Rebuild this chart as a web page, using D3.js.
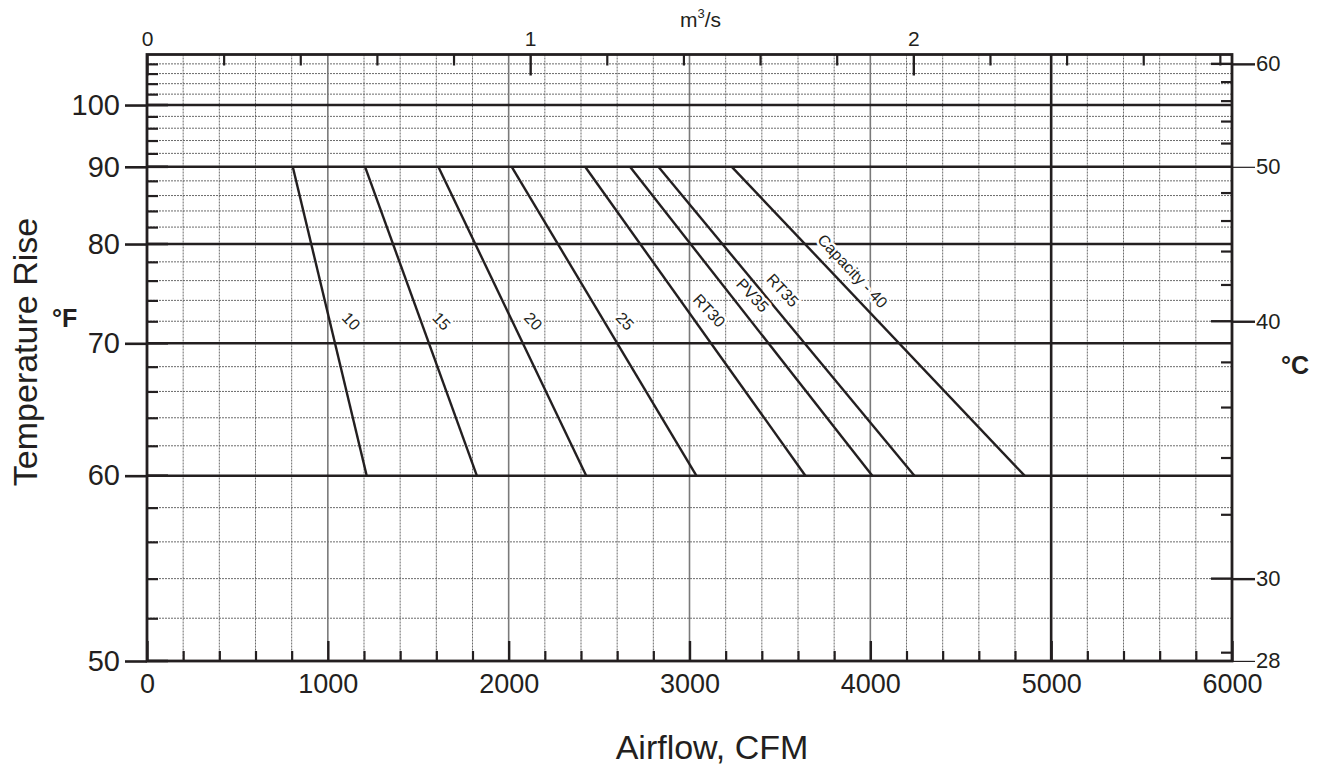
<!DOCTYPE html>
<html><head><meta charset="utf-8">
<script src="https://cdn.jsdelivr.net/npm/d3@7"></script>
<style>
body{margin:0;background:#fff}
svg{display:block}
text{font-family:"Liberation Sans",Arial,Helvetica,sans-serif;fill:#231f20}
</style>
</head><body>
<svg id="chart" width="1326" height="774"></svg>
<script>
// ---- data ----
const seriesNames   = ["10","15","20","25","RT30","PV35","RT35","Capacity - 40"];
const airflowAt90F  = [806,1206,1611,2017,2423,2671,2828,3234];
const airflowAt60F  = [1215,1824,2429,3038,3641,4011,4244,4853];
const labelRise     = [72,72,72,72,73,74.5,75,77];
const riseTickLabels    = [50,60,70,80,90,100];
const airflowTickLabels = [0,1000,2000,3000,4000,5000,6000];
const m3sTickLabels     = [0,1,2];
const celsiusTickValues = [60,50,40,30,27.78];
const celsiusTickLabels = ["60","50","40","30","28"];
const celsiusMinorTicks = [28,32,34,36,38,42,44,46,48,52,54,56,58];
const CFM_PER_M3S = 2118.88;

// ---- layout ----
const L=147, R=1232, T=54.5, B=661;
const ink = "#231f20";
const svg = d3.select("#chart");

const x  = d3.scaleLinear().domain([0,6000]).range([L,R]);
const y  = d3.scalePow().exponent(-1).domain([50,110]).range([B,T]);
const xm = d3.scaleLinear().domain([0,6000/CFM_PER_M3S]).range([L,R]);
const yc = d3.scalePow().exponent(-1).domain([50*5/9,110*5/9]).range([B,T]);

const grid = svg.append("g");
const hMinor = d3.range(52,110,2).filter(v=>v%10!==0);
grid.selectAll(".hm").data(hMinor).join("line")
  .attr("x1",L).attr("x2",R).attr("y1",d=>y(d)).attr("y2",d=>y(d))
  .attr("stroke","#5a5a5a").attr("stroke-width",0.9).attr("stroke-dasharray","2,1");
const vMinor = d3.range(200,6000,200).filter(v=>v%1000!==0);
grid.selectAll(".vm").data(vMinor).join("line")
  .attr("y1",T).attr("y2",B).attr("x1",d=>x(d)).attr("x2",d=>x(d))
  .attr("stroke","#5a5a5a").attr("stroke-width",0.9).attr("stroke-dasharray","2,1");
grid.selectAll(".vk").data([1000,2000,3000,4000]).join("line")
  .attr("y1",T).attr("y2",B).attr("x1",d=>x(d)).attr("x2",d=>x(d))
  .attr("stroke","#7a7a7a").attr("stroke-width",1.6);
grid.append("line").attr("y1",T).attr("y2",B).attr("x1",x(5000)).attr("x2",x(5000))
  .attr("stroke",ink).attr("stroke-width",2.6);
grid.selectAll(".hM").data(riseTickLabels.filter(v=>v>50)).join("line")
  .attr("x1",L).attr("x2",R).attr("y1",d=>y(d)).attr("y2",d=>y(d))
  .attr("stroke",ink).attr("stroke-width",2.6);

// ---- axes ----
function styleAxis(g, w){
  g.select(".domain").remove();
  g.selectAll(".tick line").attr("stroke",ink).attr("stroke-width",w);
}
svg.append("g").attr("transform",`translate(0,${B})`)
  .call(d3.axisBottom(x).tickValues(vMinor).tickSizeInner(-10).tickSizeOuter(0).tickFormat(""))
  .call(g=>styleAxis(g,2.2));
svg.append("g").attr("transform",`translate(0,${B})`)
  .call(d3.axisBottom(x).tickValues(airflowTickLabels).tickSizeInner(-20).tickSizeOuter(0).tickPadding(13).tickFormat(d3.format("d")))
  .call(g=>{styleAxis(g,2.4); g.selectAll("text").attr("font-size",27).attr("fill",ink).attr("font-family",null);});
svg.append("g").attr("transform",`translate(0,${T})`)
  .call(d3.axisTop(xm).tickValues(d3.range(0.2,2.82,0.2).filter(v=>Math.abs(v-Math.round(v))>0.01)).tickSizeInner(-11).tickSizeOuter(0).tickFormat(""))
  .call(g=>styleAxis(g,2.2));
svg.append("g").attr("transform",`translate(0,${T})`)
  .call(d3.axisTop(xm).tickValues(m3sTickLabels).tickSizeInner(-21).tickSizeOuter(0).tickPadding(9).tickFormat(d3.format("d")))
  .call(g=>{styleAxis(g,2.4); g.selectAll("text").attr("font-size",21).attr("fill",ink).attr("font-family",null);});
svg.append("g").attr("transform",`translate(${L},0)`)
  .call(d3.axisLeft(y).tickValues(hMinor).tickSizeInner(-11).tickSizeOuter(0).tickFormat(""))
  .call(g=>styleAxis(g,2.2));
svg.append("g").attr("transform",`translate(${L},0)`)
  .call(d3.axisLeft(y).tickValues(riseTickLabels).tickSizeInner(22).tickSizeOuter(0).tickPadding(5).tickFormat(d3.format("d")))
  .call(g=>{styleAxis(g,2.6); g.selectAll("text").attr("font-size",29).attr("fill",ink).attr("font-family",null);});
svg.append("g").selectAll("line").data(riseTickLabels).join("line")
  .attr("x1",L).attr("x2",L+21).attr("y1",d=>y(d)).attr("y2",d=>y(d))
  .attr("stroke",ink).attr("stroke-width",2.6);
svg.append("g").attr("transform",`translate(${R},0)`)
  .call(d3.axisRight(yc).tickValues(celsiusMinorTicks).tickSizeInner(-11).tickSizeOuter(0).tickFormat(""))
  .call(g=>styleAxis(g,2.2));
svg.append("g").attr("transform",`translate(${R},0)`)
  .call(d3.axisRight(yc).tickValues(celsiusTickValues).tickSizeInner(23).tickSizeOuter(0).tickPadding(1).tickFormat((d,i)=>celsiusTickLabels[i]))
  .call(g=>{styleAxis(g,2.4);
    g.selectAll(".tick line").attr("stroke-width",d=>(d===50||d<28)?1.2:2.4);
    g.selectAll("text").attr("font-size",22).attr("fill",ink).attr("font-family",null);});
svg.append("g").selectAll("line").data(celsiusTickValues.filter(d=>!(d===50||d<28))).join("line")
  .attr("x1",R-21).attr("x2",R).attr("y1",d=>yc(d)).attr("y2",d=>yc(d))
  .attr("stroke",ink).attr("stroke-width",2.4);

svg.append("rect").attr("x",L).attr("y",T).attr("width",R-L).attr("height",B-T)
  .attr("fill","none").attr("stroke",ink).attr("stroke-width",2.8);

// ---- series lines ----
const series = seriesNames.map((n,i)=>({name:n, pts:[[airflowAt90F[i],90],[airflowAt60F[i],60]], lr:labelRise[i], k:airflowAt90F[i]*90}));
const line = d3.line().x(d=>x(d[0])).y(d=>y(d[1]));
svg.append("g").selectAll("path").data(series).join("path")
  .attr("d",d=>line(d.pts)).attr("fill","none").attr("stroke",ink).attr("stroke-width",2.4);

svg.append("g").selectAll("text").data(series).join("text")
  .attr("transform",d=>`translate(${x(d.k/d.lr)+22},${y(d.lr)}) rotate(47)`)
  .attr("text-anchor","middle").attr("dominant-baseline","central")
  .attr("font-size",16)
  .attr("stroke","#fff").attr("stroke-width",5).attr("paint-order","stroke").attr("stroke-linejoin","round")
  .text(d=>d.name);

// ---- titles ----
svg.append("text").attr("transform","translate(37,352) rotate(-90)")
  .attr("text-anchor","middle").attr("font-size",34).text("Temperature Rise");
svg.append("text").attr("x",52).attr("y",327).attr("font-size",25).attr("font-weight","bold").text("°F");
svg.append("text").attr("x",1281).attr("y",374).attr("font-size",25).attr("font-weight","bold").text("°C");
svg.append("text").attr("x",712).attr("y",759).attr("text-anchor","middle").attr("font-size",34).text("Airflow, CFM");
const mt = svg.append("text").attr("x",680).attr("y",27).attr("font-size",21);
mt.append("tspan").text("m");
mt.append("tspan").attr("dy",-9).attr("font-size",13).text("3");
mt.append("tspan").attr("dy",9).text("/s");
</script>
</body></html>
